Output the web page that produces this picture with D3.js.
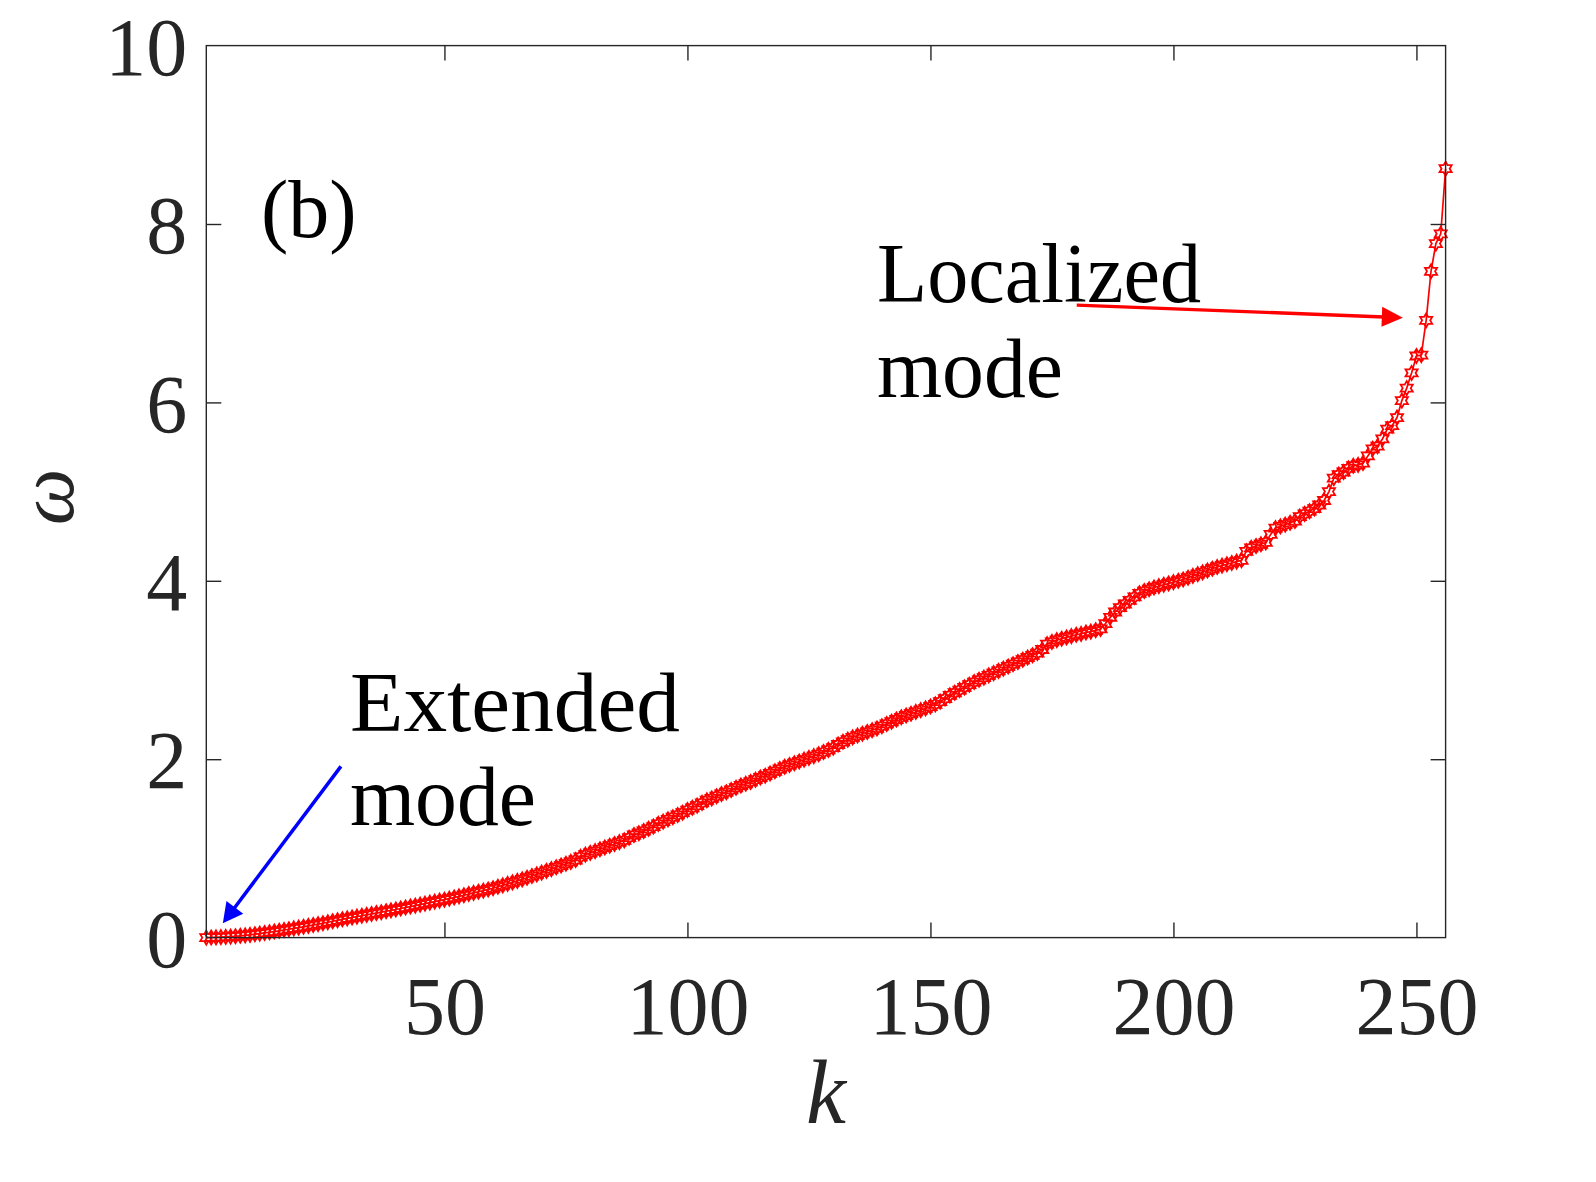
<!DOCTYPE html>
<html>
<head>
<meta charset="utf-8">
<script src="https://cdn.jsdelivr.net/npm/d3@7"></script>
<style>
  html, body { margin: 0; padding: 0; background: #ffffff; }
  svg { display: block; }
</style>
</head>
<body>
<svg id="chart" width="1596" height="1182"></svg>
<script>
// ---------------- data ----------------
const omega = [
  0.000, 0.001, 0.003, 0.005, 0.008, 0.011, 0.015, 0.020, 0.025, 0.031,
  0.038, 0.045, 0.052, 0.060, 0.068, 0.076, 0.085, 0.094, 0.103, 0.112,
  0.121, 0.131, 0.141, 0.151, 0.161, 0.172, 0.183, 0.194, 0.205, 0.216,
  0.225, 0.235, 0.245, 0.255, 0.265, 0.275, 0.285, 0.295, 0.305, 0.315,
  0.326, 0.337, 0.348, 0.359, 0.370, 0.381, 0.392, 0.403, 0.414, 0.425,
  0.437, 0.449, 0.462, 0.475, 0.488, 0.501, 0.514, 0.527, 0.540, 0.553,
  0.570, 0.586, 0.602, 0.619, 0.636, 0.653, 0.671, 0.690, 0.709, 0.728,
  0.748, 0.768, 0.788, 0.808, 0.828, 0.849, 0.870, 0.905, 0.930, 0.950,
  0.970, 0.990, 1.010, 1.030, 1.050, 1.070, 1.090, 1.120, 1.150, 1.170,
  1.195, 1.220, 1.245, 1.275, 1.300, 1.325, 1.350, 1.375, 1.400, 1.430,
  1.455, 1.480, 1.510, 1.540, 1.560, 1.585, 1.610, 1.630, 1.655, 1.680,
  1.705, 1.725, 1.745, 1.770, 1.795, 1.815, 1.840, 1.865, 1.890, 1.915,
  1.935, 1.955, 1.975, 1.995, 2.015, 2.035, 2.055, 2.080, 2.105, 2.130,
  2.165, 2.195, 2.220, 2.245, 2.265, 2.285, 2.305, 2.325, 2.345, 2.370,
  2.395, 2.420, 2.445, 2.470, 2.490, 2.510, 2.530, 2.550, 2.570, 2.590,
  2.615, 2.645, 2.680, 2.715, 2.745, 2.775, 2.805, 2.835, 2.865, 2.890,
  2.915, 2.940, 2.965, 2.990, 3.015, 3.040, 3.065, 3.090, 3.115, 3.140,
  3.165, 3.190, 3.230, 3.290, 3.315, 3.335, 3.350, 3.365, 3.380, 3.395,
  3.405, 3.420, 3.430, 3.445, 3.460, 3.520, 3.590, 3.650, 3.700, 3.740,
  3.780, 3.820, 3.860, 3.885, 3.905, 3.925, 3.940, 3.955, 3.970, 3.985,
  4.000, 4.015, 4.035, 4.055, 4.075, 4.095, 4.115, 4.135, 4.155, 4.170,
  4.185, 4.200, 4.215, 4.230, 4.330, 4.370, 4.390, 4.410, 4.430, 4.520,
  4.590, 4.610, 4.630, 4.650, 4.670, 4.720, 4.750, 4.780, 4.810, 4.850,
  4.900, 5.000, 5.150, 5.190, 5.220, 5.260, 5.290, 5.300, 5.320, 5.400,
  5.480, 5.510, 5.590, 5.700, 5.740, 5.830, 6.020, 6.160, 6.330, 6.520,
  6.530, 6.920, 7.470, 7.780, 7.890, 8.620
];
const kIndex = omega.map((_, i) => i + 1);
const xDomain = [1, 256];
const yDomain = [0, 10];
const xTicks = [50, 100, 150, 200, 250];
const yTicks = [0, 2, 4, 6, 8, 10];
const panelLabel = "(b)";
const extendedLines = ["Extended", "mode"];
const localizedLines = ["Localized", "mode"];
const xLabel = "k";
const yLabel = "ω";
// annotation arrows in data coordinates [k, omega]
const extendedArrow = { from: [28.7, 1.92], to: [4.4, 0.16] };
const localizedArrow = { from: [180.1, 7.09], to: [247.2, 6.95] };

// ---------------- layout ----------------
const svg = d3.select("#chart");
const plot = { left: 206.3, right: 1445.6, top: 45.6, bottom: 937.6 };
const axisColor = "#262626";
const serif = "'Liberation Serif', 'Times New Roman', serif";

const x = d3.scaleLinear().domain(xDomain).range([plot.left, plot.right]);
const y = d3.scaleLinear().domain(yDomain).range([plot.bottom, plot.top]);

svg.append("rect").attr("width", 1596).attr("height", 1182).attr("fill", "#ffffff");

const defs = svg.append("defs");
defs.append("clipPath").attr("id", "plotclip")
  .append("rect")
  .attr("x", plot.left - 10).attr("y", plot.top - 10)
  .attr("width", plot.right - plot.left + 20).attr("height", plot.bottom - plot.top + 20);

// ---------------- data line + markers ----------------
const series = kIndex.map((k, i) => ({ k, w: omega[i] }));
const gData = svg.append("g").attr("clip-path", "url(#plotclip)");

gData.append("path")
  .datum(series)
  .attr("fill", "none")
  .attr("stroke", "#ff0000")
  .attr("stroke-width", 1.7)
  .attr("d", d3.line().x(d => x(d.k)).y(d => y(d.w)));

const hexagram = {
  draw(ctx, size) {
    const R = Math.sqrt(size);
    const r = R / Math.sqrt(3);
    for (let i = 0; i < 12; i++) {
      const a = -Math.PI / 2 + i * Math.PI / 6;
      const rr = i % 2 === 0 ? R : r;
      const px = rr * Math.cos(a), py = rr * Math.sin(a);
      if (i === 0) ctx.moveTo(px, py); else ctx.lineTo(px, py);
    }
    ctx.closePath();
  }
};
const sym = d3.symbol().type(hexagram).size(7 * 7);

gData.selectAll("path.mk")
  .data(series)
  .join("path")
  .attr("class", "mk")
  .attr("transform", d => `translate(${x(d.k)},${y(d.w)})`)
  .attr("d", sym)
  .attr("fill", "none")
  .attr("stroke", "#ff0000")
  .attr("stroke-width", 1.8);

// ---------------- axes ----------------
const tickLen = 15;
const fontTick = 82;

const gxB = svg.append("g").attr("transform", `translate(0,${plot.bottom})`)
  .call(d3.axisBottom(x).tickValues(xTicks).tickSize(-tickLen).tickPadding(38).tickFormat(d3.format("d")));
const gxT = svg.append("g").attr("transform", `translate(0,${plot.top})`)
  .call(d3.axisTop(x).tickValues(xTicks).tickSize(-tickLen).tickFormat(""));
const gyL = svg.append("g").attr("transform", `translate(${plot.left},0)`)
  .call(d3.axisLeft(y).tickValues(yTicks).tickSize(-tickLen).tickPadding(19).tickFormat(d3.format("d")));
const gyR = svg.append("g").attr("transform", `translate(${plot.right},0)`)
  .call(d3.axisRight(y).tickValues(yTicks).tickSize(-tickLen).tickFormat(""));

[gxB, gxT, gyL, gyR].forEach(g => {
  g.select(".domain").remove();
  g.selectAll(".tick line").attr("stroke", axisColor).attr("stroke-width", 1.4);
  g.selectAll("text").attr("fill", axisColor)
    .style("font-family", serif).style("font-size", fontTick + "px");
});
gyL.selectAll("text").attr("dy", "0.35em");
gyL.selectAll(".tick").filter(d => d === 0 || d === 10).select("line").remove();
gyR.selectAll(".tick").filter(d => d === 0 || d === 10).select("line").remove();

// box
svg.append("rect")
  .attr("x", plot.left).attr("y", plot.top)
  .attr("width", plot.right - plot.left).attr("height", plot.bottom - plot.top)
  .attr("fill", "none").attr("stroke", axisColor).attr("stroke-width", 1.4);

// axis labels
svg.append("text")
  .attr("x", (plot.left + plot.right) / 2).attr("y", 1123)
  .attr("text-anchor", "middle")
  .attr("fill", axisColor)
  .style("font-family", serif).style("font-style", "italic").style("font-size", "90px")
  .text(xLabel);

svg.append("text")
  .attr("transform", `translate(73,497) rotate(-90)`)
  .attr("text-anchor", "middle")
  .attr("fill", axisColor)
  .style("font-family", serif).style("font-style", "italic").style("font-size", "80px")
  .text(yLabel);

// ---------------- annotations ----------------
svg.append("text")
  .attr("x", 261).attr("y", 237)
  .attr("fill", "#000")
  .style("font-family", serif).style("font-size", "82px")
  .text(panelLabel);

const annText = (lines, x0, ys, widths) => {
  lines.forEach((t, i) => {
    svg.append("text")
      .attr("x", x0).attr("y", ys[i])
      .attr("fill", "#000")
      .attr("textLength", widths[i]).attr("lengthAdjust", "spacingAndGlyphs")
      .style("font-family", serif).style("font-size", "84px")
      .text(t);
  });
};
annText(extendedLines, 350, [731, 825], [330, 186]);
annText(localizedLines, 877, [302, 397], [324, 186]);

function arrow(a, color, width, headLen, headHalf) {
  const x1 = x(a.from[0]), y1 = y(a.from[1]);
  const x2 = x(a.to[0]), y2 = y(a.to[1]);
  const dx = x2 - x1, dy = y2 - y1;
  const L = Math.hypot(dx, dy);
  const ux = dx / L, uy = dy / L;
  const bx = x2 - ux * headLen, by = y2 - uy * headLen;
  svg.append("line")
    .attr("x1", x1).attr("y1", y1).attr("x2", bx + ux * 2).attr("y2", by + uy * 2)
    .attr("stroke", color).attr("stroke-width", width);
  svg.append("path")
    .attr("d", `M${x2},${y2} L${bx - uy * headHalf},${by + ux * headHalf} L${bx + uy * headHalf},${by - ux * headHalf} Z`)
    .attr("fill", color);
}
arrow(extendedArrow, "#0000ff", 3.5, 20, 10.5);
arrow(localizedArrow, "#ff0000", 3.4, 21, 10);
</script>
</body>
</html>
